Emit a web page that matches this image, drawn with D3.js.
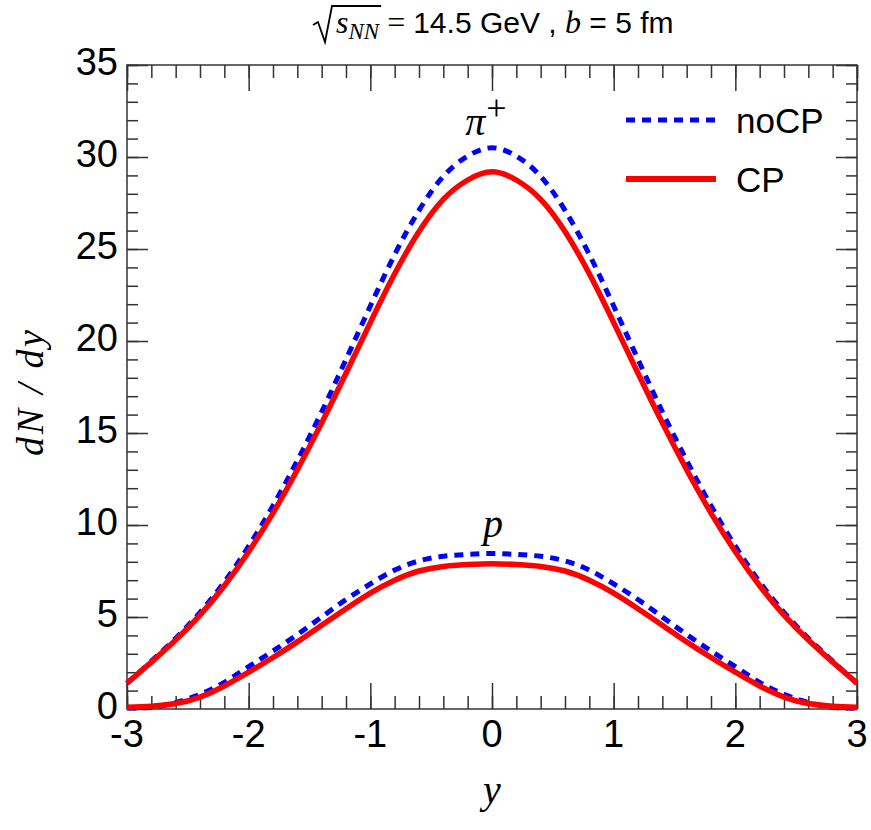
<!DOCTYPE html>
<html>
<head>
<meta charset="utf-8">
<script src="https://cdn.jsdelivr.net/npm/d3@7"></script>
<style>
  body { margin: 0; background: #fff; }
  text { font-family: "Liberation Sans", Arial, Helvetica, sans-serif; }
</style>
</head>
<body>
<div id="plot"></div>
<script>

// rapidity points
var rapidity = [-3, -2.8, -2.6, -2.4, -2.2, -2, -1.8, -1.6, -1.4, -1.2, -1, -0.8, -0.6, -0.4, -0.2, 0,
                0.2, 0.4, 0.6, 0.8, 1, 1.2, 1.4, 1.6, 1.8, 2, 2.2, 2.4, 2.6, 2.8, 3];

// pi+ dN/dy
var pionNoCP = [1.4, 2.6, 3.85, 5.25, 6.9, 8.85, 11.05, 13.5, 16.15, 19.0, 21.9, 24.7, 27.1, 28.95, 30.05, 30.5,
                30.05, 28.95, 27.1, 24.7, 21.9, 19.0, 16.15, 13.5, 11.05, 8.85, 6.9, 5.25, 3.85, 2.6, 1.4];
var pionCP   = [1.4, 2.55, 3.75, 5.1, 6.7, 8.55, 10.65, 13.0, 15.55, 18.25, 21.0, 23.65, 25.95, 27.7, 28.75, 29.2,
                28.75, 27.7, 25.95, 23.65, 21.0, 18.25, 15.55, 13.0, 10.65, 8.55, 6.7, 5.1, 3.75, 2.55, 1.4];

// proton dN/dy
var protonNoCP = [0.05, 0.1, 0.35, 0.8, 1.45, 2.3, 3.15, 4.05, 5.0, 5.95, 6.8, 7.55, 8.05, 8.3, 8.4, 8.45,
                  8.4, 8.3, 8.05, 7.55, 6.8, 5.95, 5.0, 4.05, 3.15, 2.3, 1.45, 0.8, 0.35, 0.1, 0.05];
var protonCP   = [0.1, 0.15, 0.3, 0.65, 1.25, 2.0, 2.8, 3.65, 4.55, 5.45, 6.3, 7.0, 7.5, 7.75, 7.85, 7.9,
                  7.85, 7.75, 7.5, 7.0, 6.3, 5.45, 4.55, 3.65, 2.8, 2.0, 1.25, 0.65, 0.3, 0.15, 0.1];

var xTicks = [-3, -2, -1, 0, 1, 2, 3];
var yTicks = [0, 5, 10, 15, 20, 25, 30, 35];

var series = [
  {name: "noCP", color: "#0000ff", dash: "9,7", values: [pionNoCP, protonNoCP]},
  {name: "CP",   color: "#ff0000", dash: null,  values: [pionCP, protonCP]}
];

// set the dimensions and margins of the graph
var margin = {top: 65, right: 14, bottom: 121, left: 127},
    width = 871 - margin.left - margin.right,
    height = 830 - margin.top - margin.bottom;

var svgRoot = d3.select("#plot")
  .append("svg")
  .attr("width", 871)
  .attr("height", 830);

var svg = svgRoot.append("g")
  .attr("transform", "translate(" + margin.left + "," + margin.top + ")");

var x = d3.scaleLinear().domain([-3, 3]).range([0, width]);
var y = d3.scaleLinear().domain([0, 35]).range([height, 0]);

var axisColor = "#333";
var serif = "'Liberation Serif', 'Times New Roman', serif";

// ticks on all four sides, pointing inwards
function drawAxis(axis, transform) {
  var g = svg.append("g").attr("transform", transform).call(axis);
  g.select(".domain").remove();
  g.selectAll("line").attr("stroke", axisColor).attr("stroke-width", 1.5);
  g.selectAll("text").remove();
  return g;
}

var xMinor = d3.range(-30, 31, 2).map(function(d) { return d / 10; });
var yMinor = d3.range(0, 36, 1);

drawAxis(d3.axisBottom(x).tickValues(xMinor).tickSize(-13), "translate(0," + height + ")");
drawAxis(d3.axisBottom(x).tickValues(xTicks).tickSize(-26), "translate(0," + height + ")");
drawAxis(d3.axisTop(x).tickValues(xMinor).tickSize(-13), "translate(0,0)");
drawAxis(d3.axisTop(x).tickValues(xTicks).tickSize(-26), "translate(0,0)");
drawAxis(d3.axisLeft(y).tickValues(yMinor).tickSize(-11), "translate(0,0)");
drawAxis(d3.axisLeft(y).tickValues(yTicks).tickSize(-21), "translate(0,0)");
drawAxis(d3.axisRight(y).tickValues(yMinor).tickSize(-11), "translate(" + width + ",0)");
drawAxis(d3.axisRight(y).tickValues(yTicks).tickSize(-21), "translate(" + width + ",0)");

// frame
svg.append("rect")
  .attr("x", 0).attr("y", 0)
  .attr("width", width).attr("height", height)
  .attr("fill", "none")
  .attr("stroke", axisColor)
  .attr("stroke-width", 1.5);

// tick labels
svg.append("g").selectAll("text")
  .data(xTicks)
  .enter().append("text")
  .attr("x", function(d) { return x(d); })
  .attr("y", height + 38)
  .attr("text-anchor", "middle")
  .attr("font-size", 38)
  .text(function(d) { return d; });

svg.append("g").selectAll("text")
  .data(yTicks)
  .enter().append("text")
  .attr("x", -9)
  .attr("y", function(d) { return y(d); })
  .attr("dy", "0.25em")
  .attr("text-anchor", "end")
  .attr("font-size", 38)
  .text(function(d) { return d; });

// the curves
var line = d3.line()
  .curve(d3.curveNatural)
  .x(function(d) { return x(d[0]); })
  .y(function(d) { return y(d[1]); });

for (var s of series) {
  for (var vals of s.values) {
    var pts = rapidity.map(function(r, i) { return [r, vals[i]]; });
    svg.append("path")
      .datum(pts)
      .attr("fill", "none")
      .attr("stroke", s.color)
      .attr("stroke-width", s.dash ? 5 : 5.5)
      .attr("stroke-dasharray", s.dash)
      .attr("d", line);
  }
}

// particle labels
var pi = svg.append("text")
  .attr("x", x(0) - 6)
  .attr("y", y(30.5) - 13)
  .attr("text-anchor", "middle")
  .style("font-family", serif)
  .style("font-style", "italic")
  .attr("font-size", 40);
pi.append("tspan").text("\u03c0");
pi.append("tspan").attr("dy", -15).attr("font-size", 36).attr("dx", 1)
  .style("font-style", "normal").text("+");

svg.append("text")
  .attr("x", x(0) + 1)
  .attr("y", y(8.45) - 17)
  .attr("text-anchor", "middle")
  .style("font-family", serif)
  .style("font-style", "italic")
  .attr("font-size", 40)
  .text("p");

// legend
var legend = svgRoot.append("g");
series.forEach(function(s, i) {
  var ly = 120 + i * 59;
  legend.append("line")
    .attr("x1", 626).attr("x2", 716)
    .attr("y1", ly).attr("y2", ly)
    .attr("stroke", s.color)
    .attr("stroke-width", s.dash ? 5 : 6)
    .attr("stroke-dasharray", s.dash);
  legend.append("text")
    .attr("x", 736)
    .attr("y", ly + 13)
    .attr("font-size", 35)
    .text(s.name);
});

// axis titles
svgRoot.append("text")
  .attr("transform", "translate(43,393) rotate(-90)")
  .attr("text-anchor", "middle")
  .attr("textLength", 126)
  .attr("lengthAdjust", "spacing")
  .style("font-family", serif)
  .style("font-style", "italic")
  .attr("font-size", 38)
  .text("dN / dy");

svgRoot.append("text")
  .attr("x", 492)
  .attr("y", 803)
  .attr("text-anchor", "middle")
  .style("font-family", serif)
  .style("font-style", "italic")
  .attr("font-size", 40)
  .text("y");

// title: sqrt(s_NN) = 14.5 GeV , b = 5 fm
var title = svgRoot.append("text")
  .attr("x", 336)
  .attr("y", 33)
  .attr("font-size", 30);
title.append("tspan").style("font-family", serif).style("font-style", "italic").attr("font-size", 32).text("s");
title.append("tspan").style("font-family", serif).style("font-style", "italic")
  .attr("font-size", 23).attr("dy", 6).text("NN");
title.append("tspan").style("font-family", serif).attr("dy", -6).attr("font-size", 32).text(" = ");
title.append("tspan").text("14.5 GeV , ");
title.append("tspan").style("font-family", serif).style("font-style", "italic").attr("font-size", 32).text("b");
title.append("tspan").text(" = 5 fm");

// radical sign and bar over s_NN
var tnode = title.node();
var barEnd = tnode.getEndPositionOfChar(2).x + 2;
svgRoot.append("path")
  .attr("d", "M313,25 L318,22 L325,42 L332,6 L" + barEnd + ",6")
  .attr("fill", "none")
  .attr("stroke", "#000")
  .attr("stroke-width", 1.8);

</script>
</body>
</html>
